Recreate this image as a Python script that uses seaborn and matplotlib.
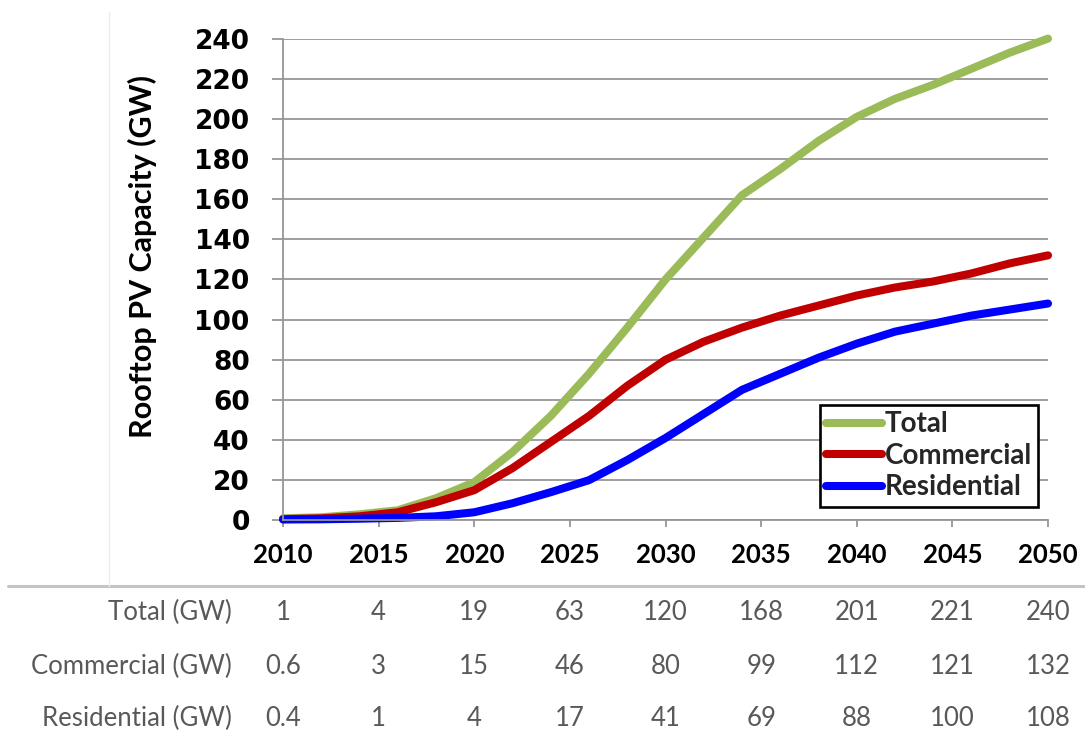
import numpy as np
import pandas as pd
import matplotlib
matplotlib.use("Agg")
import matplotlib.pyplot as plt
from matplotlib.lines import Line2D
from matplotlib.transforms import blended_transform_factory
import seaborn as sns

# Model solve years (two-year steps)
years = [2010, 2012, 2014, 2016, 2018, 2020, 2022, 2024, 2026, 2028, 2030,
         2032, 2034, 2036, 2038, 2040, 2042, 2044, 2046, 2048, 2050]

total_gw = [1, 1.5, 3, 5, 11, 19, 34, 52, 73, 96, 120,
            141, 162, 175, 189, 201, 210, 217, 225, 233, 240]
commercial_gw = [0.6, 1, 2, 4, 9, 15, 26, 39, 52, 67, 80,
                 89, 96, 102, 107, 112, 116, 119, 123, 128, 132]
residential_gw = [0.4, 0.5, 0.8, 1.2, 2, 4, 8.5, 14, 20, 30, 41,
                  53, 65, 73, 81, 88, 94, 98, 102, 105, 108]

series_names = ["Total", "Commercial", "Residential"]
series_colors = {"Total": "#9BBB59", "Commercial": "#C00000", "Residential": "#0000FF"}

# Summary table below the chart
table_years = [2010, 2015, 2020, 2025, 2030, 2035, 2040, 2045, 2050]
table_rows = ["Total (GW)", "Commercial (GW)", "Residential (GW)"]
table_total = ["1", "4", "19", "63", "120", "168", "201", "221", "240"]
table_commercial = ["0.6", "3", "15", "46", "80", "99", "112", "121", "132"]
table_residential = ["0.4", "1", "4", "17", "41", "69", "88", "100", "108"]

df = pd.DataFrame({
    "Year": years * 3,
    "Capacity": total_gw + commercial_gw + residential_gw,
    "Series": ["Total"] * len(years) + ["Commercial"] * len(years) + ["Residential"] * len(years),
})

sns.set_style("white")

W, H = 1085, 741
fig = plt.figure(figsize=(W / 100, H / 100), dpi=100)
x0, x1, y0, y1 = 283, 1048, 520.3, 38.6
ax = fig.add_axes([x0 / W, 1 - y0 / H, (x1 - x0) / W, (y0 - y1) / H])

grid_c = "#969696"
ax.set_axisbelow(True)
ax.yaxis.grid(True, color=grid_c, linewidth=1.3)
ax.xaxis.grid(False)

sns.lineplot(data=df, x="Year", y="Capacity", hue="Series", hue_order=series_names,
             palette=series_colors, linewidth=5.8, ax=ax, legend=False,
             solid_capstyle="round", solid_joinstyle="round", clip_on=False,
             estimator=None, sort=True)

ax.set_xlim(2010, 2050)
ax.set_ylim(0, 240)
ax.set_xticks(table_years)
ax.set_yticks(np.arange(0, 241, 20))

for side in ("top", "right"):
    ax.spines[side].set_visible(False)
for side in ("left", "bottom"):
    ax.spines[side].set_color(grid_c)
    ax.spines[side].set_linewidth(1.3)

ax.tick_params(axis="y", direction="out", length=8, width=1.3, color=grid_c,
               pad=16, labelsize=19, labelcolor="black", left=True)
ax.tick_params(axis="x", direction="out", length=5, width=1.3, color=grid_c,
               pad=11, labelsize=18.5, labelcolor="black", bottom=True)
for lab in ax.get_yticklabels():
    lab.set_family(["DejaVu Sans"])
    lab.set_fontweight("bold")
for lab in ax.get_xticklabels():
    lab.set_family(["Lato", "DejaVu Sans"])
    lab.set_fontweight("bold")

ax.set_xlabel("")
ax.set_ylabel("Rooftop PV Capacity (GW)", fontsize=22, fontweight="bold",
              family=["Lato", "DejaVu Sans"], color="black")
ax.yaxis.set_label_coords((157 - x0) / (x1 - x0), (y0 - 256.5) / (y0 - y1))

handles = ax.get_lines()[:3]
leg = ax.legend(handles, series_names, loc="lower right",
                bbox_to_anchor=((1038 - x0) / (x1 - x0), (y0 - 506.5) / (y0 - y1)),
                frameon=True, fancybox=False, framealpha=1, edgecolor="black",
                prop={"family": ["Lato", "DejaVu Sans"], "weight": "bold", "size": 20},
                handlelength=2.0, handletextpad=0.1, labelspacing=0.2,
                borderpad=0.22, borderaxespad=0)
leg.get_frame().set_linewidth(1.9)

# Frame lines separating the chart from the table
fig.add_artist(Line2D([8 / W, 1.0], [1 - 586 / H, 1 - 586 / H], transform=fig.transFigure,
                      color="#c4c4c4", linewidth=2.2))
fig.add_artist(Line2D([109 / W, 109 / W], [1 - 12 / H, 1 - 586 / H], transform=fig.transFigure,
                      color="#ececec", linewidth=1.0))

# Table of values under the x axis
trans = blended_transform_factory(ax.transData, fig.transFigure)
row_values = [table_total, table_commercial, table_residential]
row_y = [612.7, 666.7, 718.3]
table_font = ["Lato", "DejaVu Sans"]
for name, vals, yy in zip(table_rows, row_values, row_y):
    fig.text(232 / W, 1 - yy / H, name, ha="right", va="center", fontsize=18.5,
             color="#595959", family=table_font)
    for yr, v in zip(table_years, vals):
        ax.text(yr, 1 - yy / H, v, transform=trans, ha="center", va="center",
                fontsize=18.5, color="#595959", family=table_font)

fig.savefig("out.png", dpi=100)
